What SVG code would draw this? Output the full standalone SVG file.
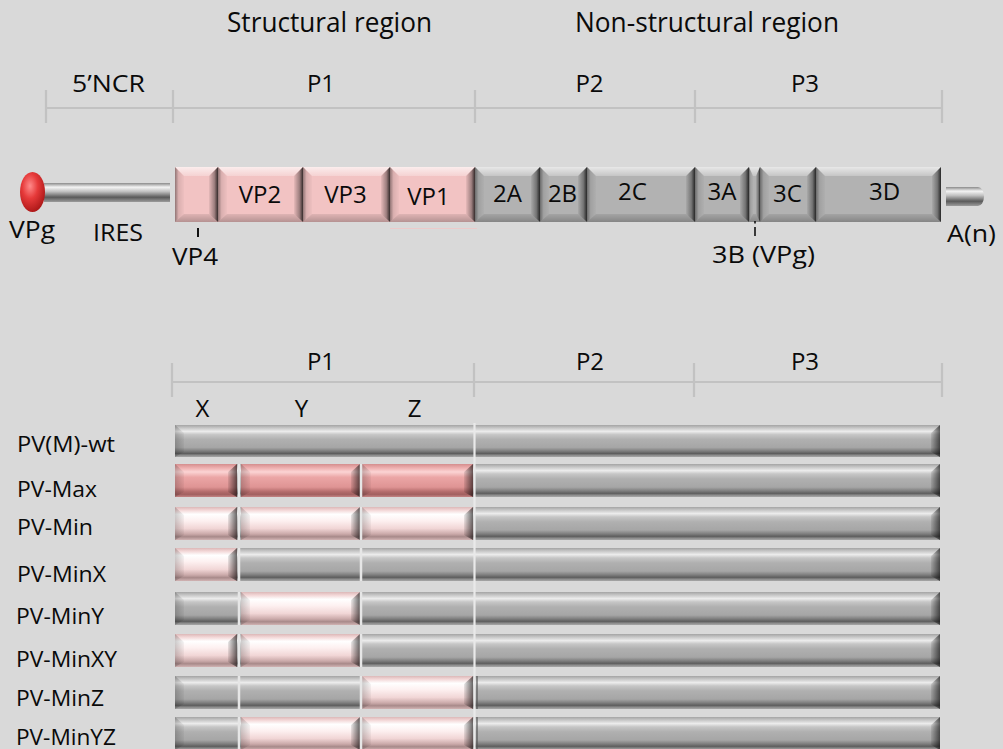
<svg xmlns="http://www.w3.org/2000/svg" width="1003" height="749" viewBox="0 0 1003 749">
<style>
.t{font-family:"Open Sans","Liberation Sans",sans-serif;fill:#0a0a0a}
.tt{font-size:27px}
.tp{font-size:24px}
.tb{font-size:24px;text-anchor:middle}
.ts{font-size:23px}
.tr{font-size:21px}
.dim{stroke:#c2c2c2;stroke-width:2.2;fill:none}
.pk{fill:#f2c3c3}
.gy{fill:#b2b2b2}
.bt{fill:url(#bTop)}
.bb{fill:url(#bBot)}
.bl{fill:url(#bLeft)}
.br{fill:url(#bRight)}
.rg{fill:url(#gRow)}
.rl{fill:url(#gPinkL)}
.rs{fill:url(#gPinkS)}
.wl{fill:url(#wLeft)}
.wr{fill:url(#wRight)}
.sep{stroke:#e6e6e6;stroke-width:2.5}
</style>
<defs>
<linearGradient id="bTop" x1="0" y1="0" x2="0" y2="1"><stop offset="0" stop-color="#fff" stop-opacity="0.7"/><stop offset="1" stop-color="#fff" stop-opacity="0.25"/></linearGradient>
<linearGradient id="bBot" x1="0" y1="0" x2="0" y2="1"><stop offset="0" stop-color="#000" stop-opacity="0.08"/><stop offset="1" stop-color="#000" stop-opacity="0.25"/></linearGradient>
<linearGradient id="bLeft" x1="0" y1="0" x2="1" y2="0"><stop offset="0" stop-color="#000" stop-opacity="0.4"/><stop offset="0.4" stop-color="#000" stop-opacity="0.1"/><stop offset="1" stop-color="#000" stop-opacity="0.02"/></linearGradient>
<linearGradient id="bRight" x1="0" y1="0" x2="1" y2="0"><stop offset="0" stop-color="#000" stop-opacity="0.05"/><stop offset="0.6" stop-color="#000" stop-opacity="0.35"/><stop offset="1" stop-color="#000" stop-opacity="0.78"/></linearGradient>
<linearGradient id="gRow" x1="0" y1="0" x2="0" y2="1">
<stop offset="0" stop-color="#a4a4a4"/><stop offset="0.08" stop-color="#c2c2c2"/><stop offset="0.2" stop-color="#ececec"/><stop offset="0.3" stop-color="#c6c6c6"/><stop offset="0.45" stop-color="#b0b0b0"/><stop offset="0.7" stop-color="#a6a6a6"/><stop offset="0.82" stop-color="#7c7c7c"/><stop offset="0.89" stop-color="#5e5e5e"/><stop offset="0.95" stop-color="#8e8e8e"/><stop offset="1" stop-color="#a8a8a8"/>
</linearGradient>
<linearGradient id="gPinkL" x1="0" y1="0" x2="0" y2="1">
<stop offset="0" stop-color="#dcb8b8"/><stop offset="0.1" stop-color="#f3d8d8"/><stop offset="0.22" stop-color="#ffffff"/><stop offset="0.42" stop-color="#fdf0f0"/><stop offset="0.65" stop-color="#f1d6d6"/><stop offset="0.82" stop-color="#caa9a9"/><stop offset="0.9" stop-color="#a88a8a"/><stop offset="1" stop-color="#d2b4b4"/>
</linearGradient>
<linearGradient id="gPinkS" x1="0" y1="0" x2="0" y2="1">
<stop offset="0" stop-color="#d48e8e"/><stop offset="0.12" stop-color="#eeb0b0"/><stop offset="0.24" stop-color="#fbd4d4"/><stop offset="0.4" stop-color="#eba6a6"/><stop offset="0.7" stop-color="#df9494"/><stop offset="0.84" stop-color="#b46c6c"/><stop offset="0.92" stop-color="#a26060"/><stop offset="1" stop-color="#c48484"/>
</linearGradient>
<linearGradient id="wLeft" x1="0" y1="0" x2="1" y2="0"><stop offset="0" stop-color="#000" stop-opacity="0.2"/><stop offset="1" stop-color="#000" stop-opacity="0.04"/></linearGradient>
<linearGradient id="wRight" x1="0" y1="0" x2="1" y2="0"><stop offset="0" stop-color="#000" stop-opacity="0.08"/><stop offset="1" stop-color="#000" stop-opacity="0.6"/></linearGradient>
<linearGradient id="gCyl" x1="0" y1="0" x2="0" y2="1">
<stop offset="0" stop-color="#8a8a8a"/><stop offset="0.22" stop-color="#f4f4f4"/><stop offset="0.45" stop-color="#c0c0c0"/><stop offset="0.75" stop-color="#5a5a5a"/><stop offset="1" stop-color="#9c9c9c"/>
</linearGradient>
<radialGradient id="gRed" cx="0.4" cy="0.35" r="0.7"><stop offset="0" stop-color="#ff8a8a"/><stop offset="0.45" stop-color="#e63a3a"/><stop offset="1" stop-color="#a81515"/></radialGradient>
</defs>
<rect x="0" y="0" width="1003" height="749" fill="#d9d9d9"/>

<g id="titles">
<text class="t tt" x="227" y="32" textLength="205" lengthAdjust="spacingAndGlyphs">Structural region</text>
<text class="t tt" x="575" y="32" textLength="264" lengthAdjust="spacingAndGlyphs">Non-structural region</text>
</g>

<g id="brackets">
<path class="dim" d="M46,108 H942 M46,90 V123 M173,90 V123 M475,90 V123 M695,90 V123 M942,90 V123"/>
<path class="dim" d="M172,382 H942 M172,363 V397 M474,363 V397 M694,363 V397 M942,363 V397"/>
<text class="t tp" x="72" y="92" textLength="73" lengthAdjust="spacingAndGlyphs">5’NCR</text>
<text class="t tb" x="321" y="92">P1</text>
<text class="t tb" x="589.5" y="92">P2</text>
<text class="t tb" x="805" y="92">P3</text>
<text class="t tb" x="321" y="370">P1</text>
<text class="t tb" x="590" y="370">P2</text>
<text class="t tb" x="805" y="370">P3</text>
<text class="t tb" x="202.5" y="417">X</text>
<text class="t tb" x="301.5" y="417">Y</text>
<text class="t tb" x="414.5" y="417">Z</text>
</g>

<g id="utr5">
<rect x="44" y="183" width="126" height="19" fill="url(#gCyl)"/>
<ellipse cx="32.5" cy="192" rx="12.5" ry="20" fill="url(#gRed)"/>
<text class="t ts" x="9" y="238" textLength="46" lengthAdjust="spacingAndGlyphs">VPg</text>
<text class="t ts" x="93" y="241" textLength="50" lengthAdjust="spacingAndGlyphs">IRES</text>
</g>

<g id="VP4">
<rect class="pk" x="175" y="167" width="43" height="55"/>
<polygon class="bt" points="175,167 218,167 209,176 184,176"/>
<polygon class="bb" points="175,222 218,222 209,214 184,214"/>
<polygon class="bl" points="175,167 184,176 184,214 175,222"/>
<polygon class="br" points="218,167 209,176 209,214 218,222"/>
<line x1="198" y1="228" x2="198" y2="237" stroke="#111" stroke-width="2"/>
<text class="t ts" x="172" y="265" textLength="46" lengthAdjust="spacingAndGlyphs">VP4</text>
</g>
<g id="VP2">
<rect class="pk" x="218" y="167" width="85" height="55"/>
<polygon class="bt" points="218,167 303,167 294,176 227,176"/>
<polygon class="bb" points="218,222 303,222 294,214 227,214"/>
<polygon class="bl" points="218,167 227,176 227,214 218,222"/>
<polygon class="br" points="303,167 294,176 294,214 303,222"/>
<text class="t tb" x="260" y="203">VP2</text>
</g>
<g id="VP3">
<rect class="pk" x="303" y="167" width="87" height="55"/>
<polygon class="bt" points="303,167 390,167 381,176 312,176"/>
<polygon class="bb" points="303,222 390,222 381,214 312,214"/>
<polygon class="bl" points="303,167 312,176 312,214 303,222"/>
<polygon class="br" points="390,167 381,176 381,214 390,222"/>
<text class="t tb" x="345.5" y="203">VP3</text>
</g>
<g id="VP1">
<rect class="pk" x="390" y="167" width="85" height="55"/>
<polygon class="bt" points="390,167 475,167 466,176 399,176"/>
<polygon class="bb" points="390,222 475,222 466,214 399,214"/>
<polygon class="bl" points="390,167 399,176 399,214 390,222"/>
<polygon class="br" points="475,167 466,176 466,214 475,222"/>
<line x1="390" y1="228.5" x2="477" y2="228.5" stroke="#eccaca" stroke-width="1.2"/>
<text class="t tb" x="428.5" y="205">VP1</text>
</g>
<g id="P2A">
<rect class="gy" x="475" y="167" width="65" height="55"/>
<polygon class="bt" points="475,167 540,167 531,176 484,176"/>
<polygon class="bb" points="475,222 540,222 531,214 484,214"/>
<polygon class="bl" points="475,167 484,176 484,214 475,222"/>
<polygon class="br" points="540,167 531,176 531,214 540,222"/>
<text class="t tb" x="507.5" y="202">2A</text>
</g>
<g id="P2B">
<rect class="gy" x="540" y="167" width="47" height="55"/>
<polygon class="bt" points="540,167 587,167 578,176 549,176"/>
<polygon class="bb" points="540,222 587,222 578,214 549,214"/>
<polygon class="bl" points="540,167 549,176 549,214 540,222"/>
<polygon class="br" points="587,167 578,176 578,214 587,222"/>
<text class="t tb" x="562.5" y="202">2B</text>
</g>
<g id="P2C">
<rect class="gy" x="587" y="167" width="108" height="55"/>
<polygon class="bt" points="587,167 695,167 686,176 596,176"/>
<polygon class="bb" points="587,222 695,222 686,214 596,214"/>
<polygon class="bl" points="587,167 596,176 596,214 587,222"/>
<polygon class="br" points="695,167 686,176 686,214 695,222"/>
<text class="t tb" x="632.5" y="200">2C</text>
</g>
<g id="P3A">
<rect class="gy" x="695" y="167" width="54" height="55"/>
<polygon class="bt" points="695,167 749,167 740,176 704,176"/>
<polygon class="bb" points="695,222 749,222 740,214 704,214"/>
<polygon class="bl" points="695,167 704,176 704,214 695,222"/>
<polygon class="br" points="749,167 740,176 740,214 749,222"/>
<text class="t tb" x="722" y="200">3A</text>
</g>
<g id="P3B">
<rect class="gy" x="749" y="167" width="11" height="55"/>
<polygon class="bt" points="749,167 760,167 756,176 753,176"/>
<polygon class="bb" points="749,222 760,222 756,214 753,214"/>
<polygon class="bl" points="749,167 753,176 753,214 749,222"/>
<polygon class="br" points="760,167 756,176 756,214 760,222"/>
<line x1="755" y1="221" x2="755" y2="236" stroke="#111" stroke-width="1.6" stroke-dasharray="2.5 3.5 9"/>
<text class="t ts" x="712" y="263" textLength="103" lengthAdjust="spacingAndGlyphs">3B (VPg)</text>
</g>
<g id="P3C">
<rect class="gy" x="760" y="167" width="56" height="55"/>
<polygon class="bt" points="760,167 816,167 807,176 769,176"/>
<polygon class="bb" points="760,222 816,222 807,214 769,214"/>
<polygon class="bl" points="760,167 769,176 769,214 760,222"/>
<polygon class="br" points="816,167 807,176 807,214 816,222"/>
<text class="t tb" x="787.5" y="202">3C</text>
</g>
<g id="P3D">
<rect class="gy" x="816" y="167" width="125" height="55"/>
<polygon class="bt" points="816,167 941,167 932,176 825,176"/>
<polygon class="bb" points="816,222 941,222 932,214 825,214"/>
<polygon class="bl" points="816,167 825,176 825,214 816,222"/>
<polygon class="br" points="941,167 932,176 932,214 941,222"/>
<text class="t tb" x="884.5" y="200">3D</text>
</g>
<g id="polyA">
<path d="M946,187 H978 A6,9.5 0 0 1 978,206 H946 Z" fill="url(#gCyl)"/>
<text class="t ts" x="947" y="242" textLength="49" lengthAdjust="spacingAndGlyphs">A(n)</text>
</g>

<g id="row-wt">
<rect class="rg" x="175" y="425" width="765" height="32"/>
<polygon class="wl" points="175,425 184,433 184,452 175,457"/>
<polygon class="wr" points="940,425 931,433 931,452 940,457"/>
<text class="t tr" x="17" y="452" textLength="98" lengthAdjust="spacingAndGlyphs">PV(M)-wt</text>
</g>
<g id="row-max">
<rect class="rg" x="175" y="464" width="765" height="33"/>
<polygon class="wr" points="940,464 931,472 931,492 940,497"/>
<rect class="rs" x="175" y="464" width="62" height="33"/>
<polygon class="wl" points="175,464 184,472 184,492 175,497"/>
<polygon class="wr" points="237,464 228,472 228,492 237,497"/>
<rect class="rs" x="241" y="464" width="119" height="33"/>
<polygon class="wl" points="241,464 250,472 250,492 241,497"/>
<polygon class="wr" points="360,464 351,472 351,492 360,497"/>
<rect class="rs" x="362" y="464" width="111" height="33"/>
<polygon class="wl" points="362,464 371,472 371,492 362,497"/>
<polygon class="wr" points="473,464 464,472 464,492 473,497"/>
<text class="t tr" x="17" y="497" textLength="80" lengthAdjust="spacingAndGlyphs">PV-Max</text>
</g>
<g id="row-min">
<rect class="rg" x="175" y="507" width="765" height="33"/>
<polygon class="wr" points="940,507 931,515 931,535 940,540"/>
<rect class="rl" x="175" y="507" width="62" height="33"/>
<polygon class="wl" points="175,507 184,515 184,535 175,540"/>
<polygon class="wr" points="237,507 228,515 228,535 237,540"/>
<rect class="rl" x="241" y="507" width="119" height="33"/>
<polygon class="wl" points="241,507 250,515 250,535 241,540"/>
<polygon class="wr" points="360,507 351,515 351,535 360,540"/>
<rect class="rl" x="362" y="507" width="111" height="33"/>
<polygon class="wl" points="362,507 371,515 371,535 362,540"/>
<polygon class="wr" points="473,507 464,515 464,535 473,540"/>
<text class="t tr" x="17" y="535" textLength="76" lengthAdjust="spacingAndGlyphs">PV-Min</text>
</g>
<g id="row-minx">
<rect class="rg" x="175" y="548" width="765" height="33"/>
<polygon class="wr" points="940,548 931,556 931,576 940,581"/>
<rect class="rl" x="175" y="548" width="62" height="33"/>
<polygon class="wl" points="175,548 184,556 184,576 175,581"/>
<polygon class="wr" points="237,548 228,556 228,576 237,581"/>
<text class="t tr" x="17" y="582" textLength="89" lengthAdjust="spacingAndGlyphs">PV-MinX</text>
</g>
<g id="row-miny">
<rect class="rg" x="175" y="592" width="765" height="33"/>
<polygon class="wl" points="175,592 184,600 184,620 175,625"/>
<polygon class="wr" points="940,592 931,600 931,620 940,625"/>
<rect class="rl" x="241" y="592" width="119" height="33"/>
<polygon class="wl" points="241,592 250,600 250,620 241,625"/>
<polygon class="wr" points="360,592 351,600 351,620 360,625"/>
<text class="t tr" x="16" y="624" textLength="88" lengthAdjust="spacingAndGlyphs">PV-MinY</text>
</g>
<g id="row-minxy">
<rect class="rg" x="175" y="634" width="765" height="33"/>
<polygon class="wr" points="940,634 931,642 931,662 940,667"/>
<rect class="rl" x="175" y="634" width="62" height="33"/>
<polygon class="wl" points="175,634 184,642 184,662 175,667"/>
<polygon class="wr" points="237,634 228,642 228,662 237,667"/>
<rect class="rl" x="241" y="634" width="119" height="33"/>
<polygon class="wl" points="241,634 250,642 250,662 241,667"/>
<polygon class="wr" points="360,634 351,642 351,662 360,667"/>
<text class="t tr" x="16" y="667" textLength="101" lengthAdjust="spacingAndGlyphs">PV-MinXY</text>
</g>
<g id="row-minz">
<rect class="rg" x="175" y="676" width="765" height="33"/>
<polygon class="wl" points="175,676 184,684 184,704 175,709"/>
<polygon class="wr" points="940,676 931,684 931,704 940,709"/>
<rect class="rl" x="362" y="676" width="111" height="33"/>
<polygon class="wl" points="362,676 371,684 371,704 362,709"/>
<polygon class="wr" points="473,676 464,684 464,704 473,709"/>
<line x1="477" y1="676" x2="477" y2="709" stroke="#555" stroke-width="1.2"/>
<text class="t tr" x="16" y="706" textLength="88" lengthAdjust="spacingAndGlyphs">PV-MinZ</text>
</g>
<g id="row-minyz">
<rect class="rg" x="175" y="717" width="765" height="33"/>
<polygon class="wl" points="175,717 184,725 184,745 175,750"/>
<polygon class="wr" points="940,717 931,725 931,745 940,750"/>
<rect class="rl" x="241" y="717" width="119" height="33"/>
<polygon class="wl" points="241,717 250,725 250,745 241,750"/>
<polygon class="wr" points="360,717 351,725 351,745 360,750"/>
<rect class="rl" x="362" y="717" width="111" height="33"/>
<polygon class="wl" points="362,717 371,725 371,745 362,750"/>
<polygon class="wr" points="473,717 464,725 464,745 473,750"/>
<line x1="477" y1="717" x2="477" y2="749" stroke="#555" stroke-width="1.2"/>
<text class="t tr" x="16" y="745" textLength="100" lengthAdjust="spacingAndGlyphs">PV-MinYZ</text>
</g>

<g id="separators">
<path class="sep" d="M239,464 V497 M239,507 V540 M239,548 V581 M239,592 V625 M239,634 V667 M239,676 V709 M239,717 V749"/>
<path class="sep" stroke-width="2" d="M361,464 V497 M361,507 V540 M361,548 V581 M361,592 V625 M361,634 V667 M361,676 V709 M361,717 V749"/>
<line x1="474.5" y1="423" x2="474.5" y2="749" stroke="#e9e9e9" stroke-width="2.2"/>
</g>
</svg>
